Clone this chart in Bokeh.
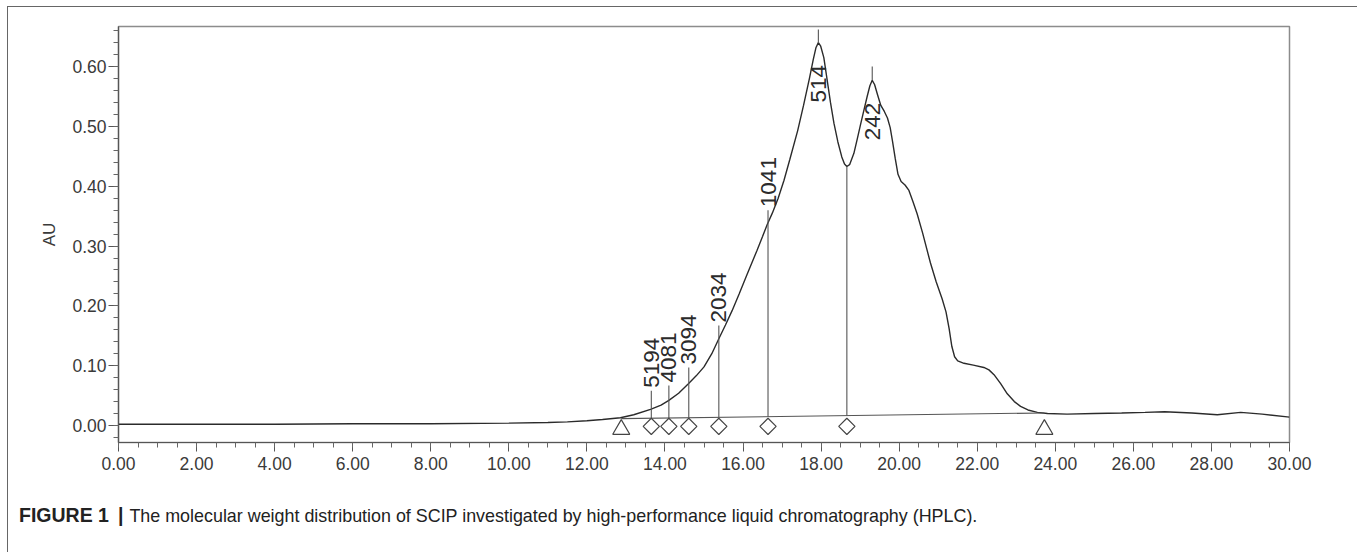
import math
from bokeh.plotting import figure
from bokeh.models import SingleIntervalTicker, PrintfTickFormatter, Range1d, Div
from bokeh.layouts import column
from bokeh.embed import file_html
from bokeh.resources import INLINE
from bokeh.core.properties import value

# ---- chromatogram trace (retention time in min, absorbance in AU) ----
time_min = [0, 2, 4, 6, 8, 10, 11, 11.5, 12.0, 12.4, 12.86, 13.2, 13.63, 13.9, 14.1,
            14.35, 14.6, 14.8, 15.0, 15.2, 15.38, 15.55, 15.72, 15.9, 16.1, 16.36, 16.5,
            16.62, 16.75, 16.9, 17.05, 17.2, 17.4, 17.55, 17.7, 17.8, 17.87, 17.93, 17.99,
            18.07, 18.15, 18.24, 18.33, 18.43, 18.53, 18.6, 18.66, 18.73, 18.84, 18.93,
            19.01, 19.1, 19.18, 19.25, 19.31, 19.37, 19.45, 19.53, 19.62, 19.7, 19.77,
            19.83, 19.9, 19.97, 20.05, 20.15, 20.25, 20.35, 20.46, 20.6, 20.8, 20.95,
            21.1, 21.2, 21.28, 21.35, 21.42, 21.5, 21.66, 21.9, 22.17, 22.3, 22.43, 22.6,
            22.77, 22.95, 23.11, 23.3, 23.54, 23.8, 24.3, 25.0, 25.7, 26.3, 26.8, 27.5,
            28.15, 28.75, 29.3, 30.0]
absorbance_au = [0.002, 0.002, 0.002, 0.003, 0.003, 0.004, 0.005, 0.006, 0.008, 0.010,
                 0.013, 0.018, 0.027, 0.034, 0.042, 0.054, 0.070, 0.083, 0.098, 0.120,
                 0.145, 0.168, 0.192, 0.220, 0.252, 0.293, 0.316, 0.336, 0.355, 0.380,
                 0.410, 0.445, 0.493, 0.535, 0.580, 0.612, 0.632, 0.640, 0.634, 0.615,
                 0.580, 0.540, 0.505, 0.474, 0.449, 0.437, 0.433, 0.436, 0.455, 0.480,
                 0.503, 0.528, 0.550, 0.568, 0.577, 0.570, 0.552, 0.535, 0.525, 0.514,
                 0.498, 0.475, 0.446, 0.420, 0.408, 0.402, 0.393, 0.375, 0.354, 0.322,
                 0.272, 0.240, 0.212, 0.190, 0.162, 0.132, 0.115, 0.108, 0.104, 0.101,
                 0.097, 0.093, 0.085, 0.070, 0.053, 0.040, 0.032, 0.026, 0.022, 0.020,
                 0.019, 0.020, 0.021, 0.022, 0.023, 0.021, 0.018, 0.022, 0.019, 0.014]

# ---- integration marks ----
peak_names = ["5194", "4081", "3094", "2034", "1041"]
peak_times = [13.65, 14.10, 14.61, 15.38, 16.64]
peak_mark_tops = [0.058, 0.067, 0.097, 0.167, 0.360]

apex_names = ["514", "242"]
apex_times = [17.93, 19.31]
apex_heights = [0.640, 0.577]
apex_mark_tops = [0.662, 0.600]
apex_label_starts = [0.540, 0.477]

valley_time = 18.66
valley_height = 0.433

baseline_times = [12.88, 23.72]
baseline_values = [0.0115, 0.021]

marker_level_diamond = -0.0015
marker_level_triangle = -0.0065

caption_bold = "FIGURE 1"
caption_text = ("The molecular weight distribution of SCIP investigated by "
                "high-performance liquid chromatography (HPLC).")


def baseline_at(t):
    t0, t1 = baseline_times
    v0, v1 = baseline_values
    return v0 + (t - t0) / (t1 - t0) * (v1 - v0)


FONT = "Liberation Sans"
INK = "#2b2b2b"

p = figure(width=1342, height=483, x_range=Range1d(0, 30), y_range=Range1d(-0.0284, 0.667),
           output_backend="svg", toolbar_location=None,
           min_border_left=110, min_border_right=61, min_border_top=19, min_border_bottom=48)
p.grid.visible = False
p.outline_line_color = "#8c8c8c"
p.outline_line_width = 1.5
p.background_fill_color = "white"
p.border_fill_color = "white"

xa = p.xaxis[0]
xa.ticker = SingleIntervalTicker(interval=2, num_minor_ticks=4)
xa.formatter = PrintfTickFormatter(format="%.2f")
xa.major_tick_out = 9
xa.major_tick_in = 0
xa.minor_tick_out = 5
xa.minor_tick_in = 0
xa.major_label_standoff = 5

ya = p.yaxis[0]
ya.ticker = SingleIntervalTicker(interval=0.1, num_minor_ticks=5)
ya.formatter = PrintfTickFormatter(format="%.2f")
ya.major_tick_out = 10
ya.major_tick_in = 0
ya.minor_tick_out = 5
ya.minor_tick_in = 0
ya.major_label_standoff = 2
ya.axis_label = "AU"
ya.axis_label_standoff = 10
ya.axis_label_text_font = FONT
ya.axis_label_text_font_size = "17px"
ya.axis_label_text_font_style = "normal"
ya.axis_label_text_color = "#3a3a3a"

for ax in (xa, ya):
    ax.axis_line_color = "#555555"
    ax.axis_line_width = 1.2
    ax.major_tick_line_color = "#555555"
    ax.minor_tick_line_color = "#666666"
    ax.major_label_text_font = FONT
    ax.major_label_text_font_size = "17.5px"
    ax.major_label_text_color = "#3a3a3a"

# trace
p.line(time_min, absorbance_au, line_color=INK, line_width=1.4)

# baseline
p.line(baseline_times, baseline_values, line_color="#555555", line_width=1.1)

# drop lines for slices
p.segment(x0=peak_times, y0=[baseline_at(t) for t in peak_times], x1=peak_times, y1=peak_mark_tops,
          line_color="#555555", line_width=1.1)
p.segment(x0=[valley_time], y0=[baseline_at(valley_time)], x1=[valley_time], y1=[valley_height],
          line_color="#555555", line_width=1.1)
p.segment(x0=apex_times, y0=apex_heights, x1=apex_times, y1=apex_mark_tops,
          line_color="#555555", line_width=1.1)

# markers
p.scatter(x=peak_times + [valley_time], y=[marker_level_diamond] * (len(peak_times) + 1),
          marker="square", angle=math.pi / 4, size=11.5, fill_color="white",
          line_color="#444444", line_width=1.2)
p.scatter(x=baseline_times, y=[marker_level_triangle] * 2, marker="triangle", size=17,
          fill_color="white", line_color="#444444", line_width=1.2)

# labels
p.text(x=peak_times, y=[v + 0.005 for v in peak_mark_tops], text=peak_names, angle=math.pi / 2,
       text_align="left", text_baseline="middle", text_font=value(FONT),
       text_font_size="22.5px", text_color=INK)
p.text(x=apex_times, y=apex_label_starts, text=apex_names, angle=math.pi / 2,
       text_align="left", text_baseline="middle", text_font=value(FONT),
       text_font_size="22.5px", text_color=INK)

# caption
cap = Div(text=(f"<b style='font-size:19.5px'>{caption_bold}</b>"
                f"<b style='font-size:19.5px;margin:0 6px 0 9px'>|</b>{caption_text}"),
          width=1342, height=55,
          styles={"font-family": "'Liberation Sans', Arial, sans-serif", "font-size": "17.9px",
                  "color": "#222222", "padding-top": "7px", "padding-left": "6px",
                  "box-sizing": "border-box", "white-space": "nowrap"})

layout = column(p, cap, spacing=0,
                styles={"border-top": "1px solid #666", "border-left": "1px solid #666",
                        "border-right": "1px solid #666", "margin-left": "7px",
                        "margin-top": "6px"})

open("out.html", "w").write(file_html(layout, INLINE))
